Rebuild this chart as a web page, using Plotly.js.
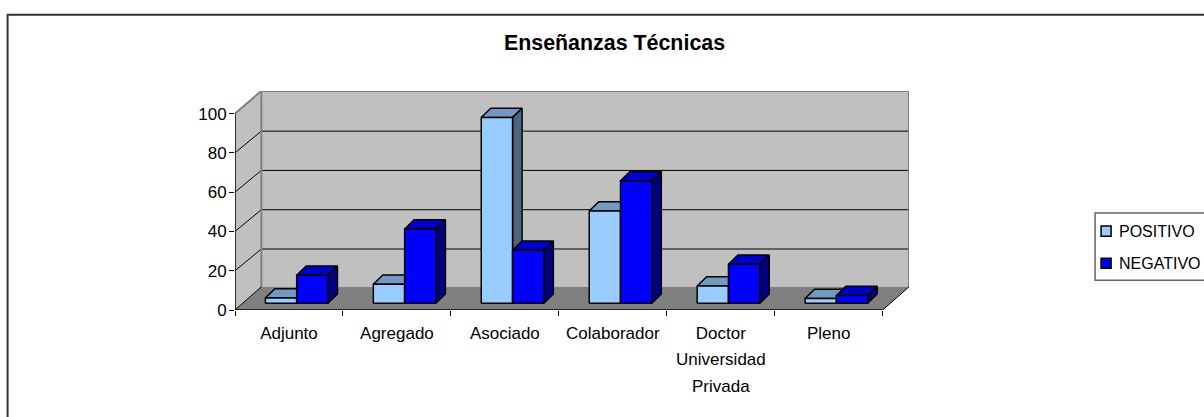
<!DOCTYPE html>
<html>
<head>
<meta charset="utf-8">
<script src="https://cdn.plot.ly/plotly-3.0.1.min.js"></script>
<style>html,body{margin:0;padding:0;background:#fff;overflow:hidden}#chart{width:1204px;height:417px}</style>
</head>
<body>
<div id="chart"></div>
<script>
const categories = ['Adjunto','Agregado','Asociado','Colaborador','Doctor','Pleno'];
const categoryExtraLines = [[],[],[],[],['Universidad','Privada'],[]];
const positivo = [2.7, 9.7, 94.6, 47, 8.8, 2.4];
const negativo = [14.3, 37.8, 27, 62.4, 19.9, 4];
const yTicks = [0,20,40,60,80,100];
const titleText = 'Enseñanzas Técnicas';

const FONT = 'Liberation Sans, Arial, sans-serif';
const W = 1204, H = 417;
const PL = 235.3, PR = 909, PT = 91.2, PB = 309.7;
const XMAX = 6.244, YMAX = 111.48;
const DX = XMAX - 6, DY = 11.8, GRID_DY = 11.05;   // wall depth in data units
const BAR_W = 0.29, BAR_X0 = 0.0714, BAR_Y0 = 3.42, BAR_DX = 0.088, BAR_DY = 4.7;

function flat(extra){ return Object.assign({type:'scatter',mode:'lines',hoverinfo:'skip',showlegend:false,cliponaxis:false},extra); }
function poly(pts,fill,lineColor,width){
  const c = pts.concat([pts[0]]);
  return flat({x:c.map(p=>p[0]),y:c.map(p=>p[1]),fill:'toself',fillcolor:fill,line:{color:lineColor,width:width}});
}
function seg(pts,color,width){ return flat({x:pts.map(p=>p[0]),y:pts.map(p=>p[1]),line:{color:color,width:width}}); }

const traces = [];
// walls and floor
traces.push(poly([[DX,DY],[XMAX,DY],[XMAX,YMAX],[DX,YMAX]],'#C0C0C0','#808080',0));
traces.push(poly([[0,0],[DX,DY],[DX,YMAX],[0,100]],'#C0C0C0','#808080',0));
traces.push(poly([[0,0],[6,0],[XMAX,DY],[DX,DY]],'#808080','#808080',0));
// gridlines
yTicks.slice(1,-1).forEach(v=>{
  traces.push(seg([[0,v],[DX,v+GRID_DY],[XMAX,v+GRID_DY]],'#000',1));
});
// wall edges
traces.push(seg([[0,100],[DX,YMAX],[XMAX,YMAX],[XMAX,DY]],'#808080',2));
traces.push(seg([[DX,YMAX],[DX,DY]],'#808080',2));
// floor edges and axes
traces.push(seg([[0,0],[DX,DY]],'#000',1));
traces.push(seg([[6,0],[XMAX,DY]],'#000',1));
traces.push(seg([[0,100],[0,0],[6,0]],'#000',1.5));

// bars: three faces per series, drawn from the values
function faces(values,side,name,front,top,right){
  const fx=[],fy=[],tx=[],ty=[],rx=[],ry=[];
  values.forEach((v,i)=>{
    const c=i+0.5+BAR_X0, x0=side<0?c-BAR_W:c, x1=side<0?c:c+BAR_W, y0=BAR_Y0, y1=BAR_Y0+v;
    fx.push(x0,x1,x1,x0,x0,null); fy.push(y0,y0,y1,y1,y0,null);
    tx.push(x0,x1,x1+BAR_DX,x0+BAR_DX,x0,null); ty.push(y1,y1,y1+BAR_DY,y1+BAR_DY,y1,null);
    rx.push(x1,x1+BAR_DX,x1+BAR_DX,x1,x1,null); ry.push(y0,y0+BAR_DY,y1+BAR_DY,y1,y0,null);
  });
  const line={color:'#000',width:1.5};
  traces.push(flat({x:tx,y:ty,fill:'toself',fillcolor:top,line:line}));
  traces.push(flat({x:rx,y:ry,fill:'toself',fillcolor:right,line:line}));
  traces.push(flat({x:fx,y:fy,fill:'toself',fillcolor:front,line:line,name:name}));
}
faces(positivo,-1,'POSITIVO','#99CCFF','#7299C0','#4D6680');
faces(negativo,1,'NEGATIVO','#0000FF','#0000C8','#000080');

// "paper" coordinates of annotations and shapes are relative to the plot area
const px = x=>(x-PL)/(PR-PL), py = y=>(PB-y)/(PB-PT);
const annotations = [];
categoryExtraLines.forEach((lines,i)=>lines.forEach((t,j)=>{
  annotations.push({xref:'x',yref:'paper',x:i+0.5,y:py(359+26.7*j),yanchor:'middle',xanchor:'center',showarrow:false,text:t,font:{family:FONT,size:17,color:'#000'}});
}));
const legendNames=[['POSITIVO',231,'#99CCFF'],['NEGATIVO',263,'#0000FF']];
const shapes = [
  {type:'rect',xref:'paper',yref:'paper',x0:px(1095),x1:px(1215),y0:py(213),y1:py(280),line:{color:'#666',width:1.5},fillcolor:'rgba(0,0,0,0)'},
  {type:'rect',xref:'paper',yref:'paper',x0:px(8),x1:px(1215),y0:py(15),y1:py(430),line:{color:'#333',width:2},fillcolor:'rgba(0,0,0,0)'}
];
legendNames.forEach(l=>{
  shapes.push({type:'rect',xref:'paper',yref:'paper',x0:px(1101),x1:px(1111),y0:py(l[1]-5),y1:py(l[1]+5),line:{color:'#000',width:1.5},fillcolor:l[2]});
  annotations.push({xref:'paper',yref:'paper',x:px(1117),y:py(l[1]),xanchor:'left',yanchor:'middle',showarrow:false,text:l[0],font:{family:FONT,size:16,color:'#000'}});
});

const layout = {
  width:W,height:H,paper_bgcolor:'#fff',plot_bgcolor:'rgba(0,0,0,0)',showlegend:false,
  margin:{l:PL,r:W-PR,t:PT,b:H-PB,pad:0},
  title:{text:titleText,x:614.5/W,xanchor:'center',y:1-43/H,yanchor:'middle',font:{family:FONT,size:21.4,weight:700,color:'#000'}},
  xaxis:{range:[0,XMAX],showgrid:false,zeroline:false,showline:false,fixedrange:true,
    tickmode:'array',tickvals:categories.map((c,i)=>i+0.5),ticktext:categories,ticks:'',ticklen:0,tickangle:0,
    ticklabelstandoff:11,tickfont:{family:FONT,size:17,color:'#000'},
    minor:{tickmode:'array',tickvals:[0,1,2,3,4,5,6],ticks:'outside',ticklen:5,tickwidth:1,tickcolor:'#000',showgrid:false}},
  yaxis:{range:[0,YMAX],showgrid:false,zeroline:false,showline:false,fixedrange:true,
    tickmode:'array',tickvals:yTicks,ticks:'outside',ticklen:5,tickwidth:1,tickcolor:'#000',
    ticklabelstandoff:-1,tickfont:{family:FONT,size:17,color:'#000'}},
  annotations:annotations,shapes:shapes
};
Plotly.newPlot('chart',traces,layout,{staticPlot:true,displayModeBar:false});
</script>
</body>
</html>
